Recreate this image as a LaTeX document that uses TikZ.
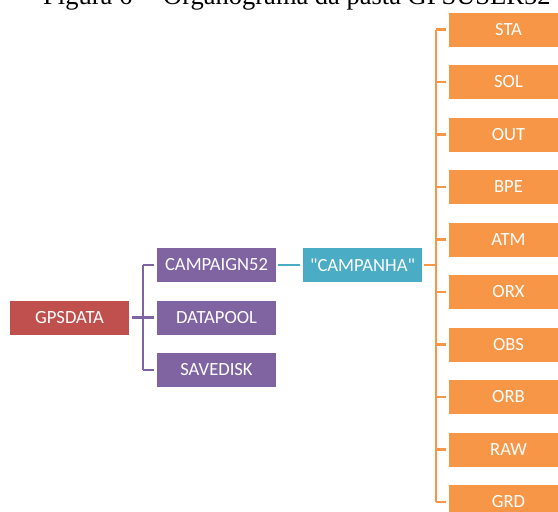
\documentclass[tikz,border=0pt]{standalone}
\usepackage{fontspec}
\setmainfont{Carlito}
\newfontfamily\captionfont{Liberation Serif}
\usetikzlibrary{calc}
\definecolor{rootfill}{HTML}{C0504D}
\definecolor{dirfill}{HTML}{8064A2}
\definecolor{campfill}{HTML}{4BACC6}
\definecolor{subfill}{HTML}{F79646}
\tikzset{
  folder/.style={rectangle, inner sep=0pt, align=center, text=white, minimum width=119pt, minimum height=34pt, font=\fontsize{18.6}{22}\selectfont},
  root/.style={folder, fill=rootfill},
  dir/.style={folder, fill=dirfill},
  camp/.style={folder, fill=campfill},
  sub/.style={folder, fill=subfill},
  dirline/.style={draw=dirfill, line width=2.6pt},
  campline/.style={draw=campfill, line width=2.4pt},
  subline/.style={draw=subfill, line width=2.2pt},
}

\begin{document}
\begin{tikzpicture}[x=1pt, y=-1pt]
\useasboundingbox (0,0) rectangle (558,512);

% ===== Caption (cut at the top) =====
\node[anchor=base west, inner sep=0pt, font=\captionfont\fontsize{26.5}{30}\selectfont] (caption) at (43,4.5) {Figura 6 -- Organograma da pasta GPSUSER52};

% ===== Left tree =====
\node[root] (gpsdata)  at (69.5,317.5) {GPSDATA};
\node[dir]  (campaign) at (216.5,265)  {CAMPAIGN52};
\node[dir]  (datapool) at (216.5,317.5) {DATAPOOL};
\node[dir]  (savedisk) at (216.5,370)  {SAVEDISK};
\node[camp] (campanha) at (362.5,265)  {\textquotedbl CAMPANHA\textquotedbl};

% ===== Subfolders =====
\node[sub] (sta) at (508.5,29.5)  {STA};
\node[sub] (sol) at (508.5,82)    {SOL};
\node[sub] (out) at (508.5,134.5) {OUT};
\node[sub] (bpe) at (508.5,187)   {BPE};
\node[sub] (atm) at (508.5,239.5) {ATM};
\node[sub] (orx) at (508.5,292)   {ORX};
\node[sub] (obs) at (508.5,344.5) {OBS};
\node[sub] (orb) at (508.5,397)   {ORB};
\node[sub] (raw) at (508.5,449.5) {RAW};
\node[sub] (grd) at (508.5,502)   {GRD};

% ===== Connectors =====
\coordinate (dirjoint) at (143,317.5);
\coordinate (subjoint) at (436,265);
\draw[dirline, shorten <=3pt] (gpsdata.east) -- (dirjoint);
\draw[dirline] (dirjoint |- campaign.west) -- (dirjoint |- savedisk.west);
\draw[dirline, shorten >=3pt] (dirjoint |- campaign.west) -- (campaign.west);
\draw[dirline, shorten >=3pt] (dirjoint) -- (datapool.west);
\draw[dirline, shorten >=3pt] (dirjoint |- savedisk.west) -- (savedisk.west);

\draw[campline, shorten <=2pt, shorten >=3pt] (campaign.east) -- (campanha.west);

\draw[subline, shorten <=2pt] (campanha.east) -- (subjoint);
\draw[subline] (subjoint |- sta.west) -- (subjoint |- grd.west);
\draw[subline, shorten >=3pt] (subjoint |- sta.west) -- (sta.west);
\draw[subline, shorten >=3pt] (subjoint |- sol.west) -- (sol.west);
\draw[subline, shorten >=3pt] (subjoint |- out.west) -- (out.west);
\draw[subline, shorten >=3pt] (subjoint |- bpe.west) -- (bpe.west);
\draw[subline, shorten >=3pt] (subjoint |- atm.west) -- (atm.west);
\draw[subline, shorten >=3pt] (subjoint |- orx.west) -- (orx.west);
\draw[subline, shorten >=3pt] (subjoint |- obs.west) -- (obs.west);
\draw[subline, shorten >=3pt] (subjoint |- orb.west) -- (orb.west);
\draw[subline, shorten >=3pt] (subjoint |- raw.west) -- (raw.west);
\draw[subline, shorten >=3pt] (subjoint |- grd.west) -- (grd.west);

\end{tikzpicture}
\end{document}
